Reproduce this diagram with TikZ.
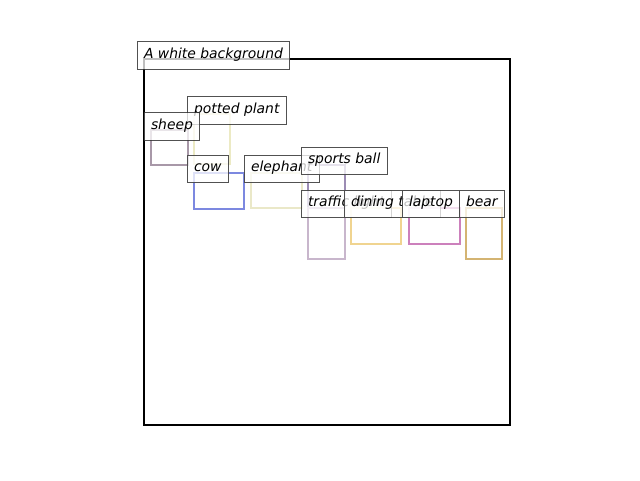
\documentclass[tikz,border=0pt]{standalone}
\usepackage{fontspec}
\setmainfont{DejaVu Sans}
\begin{document}
\begin{tikzpicture}[x=1pt,y=-1pt,
  frame/.style={draw=black,line width=2pt},
  bbox/.style={line width=2pt},
  lbl/.style={draw=black!80, draw opacity=0.85, line width=1pt,
    fill=white, fill opacity=0.75, text opacity=1,
    inner xsep=7pt, inner ysep=0pt, outer sep=0pt,
    text height=16.5pt, text depth=11pt, anchor=base west,
    font=\fontsize{13.9}{16}\selectfont\itshape}]
\definecolor{csheep}{HTML}{A898A8}
\definecolor{cplant}{HTML}{ECEAC4}
\definecolor{ccow}{HTML}{7C88E0}
\definecolor{celephant}{HTML}{EAE8C8}
\definecolor{cball}{HTML}{9C8CB4}
\definecolor{ctraffic}{HTML}{C8B6CC}
\definecolor{ctable}{HTML}{F0D490}
\definecolor{claptop}{HTML}{CC80BC}
\definecolor{cbear}{HTML}{D4B472}
\useasboundingbox (0,0) rectangle (640,480);

% image frame
\draw[frame] (144,59) rectangle (510,425);

% detection boxes
\draw[bbox,draw=csheep]    (151,130) rectangle (188,165);
\draw[bbox,draw=cplant]    (194,114) rectangle (230,164);
\draw[bbox,draw=ccow]      (194,172.5) rectangle (244,208.5);
\draw[bbox,draw=celephant] (251,172.5) rectangle (302,208);
\draw[bbox,draw=cball]     (308,164.5) rectangle (345,208);
\draw[bbox,draw=ctraffic]  (308,207.5) rectangle (345,259);
\draw[bbox,draw=ctable]    (351,207.5) rectangle (401,244);
\draw[bbox,draw=claptop]   (409,207.5) rectangle (460,244);
\draw[bbox,draw=cbear]     (466,207.5) rectangle (502,259);

% captions
\node[lbl] (lbg)       at (137,58)    {A white background};
\node[lbl] (lplant)    at (187,113)   {potted plant};
\node[lbl] (lsheep)    at (144,129)   {sheep};
\node[lbl] (lcow)      at (187,171.5) {cow};
\node[lbl] (lelephant) at (244,171.5) {elephant};
\node[lbl] (lball)     at (301,163.5) {sports ball};
\node[lbl] (ltraffic)  at (301,206.5) {traffic light};
\node[lbl] (ltable)    at (344,206.5) {dining table};
\node[lbl] (llaptop)   at (402,206.5) {laptop};
\node[lbl] (lbear)     at (459,206.5) {bear};
\end{tikzpicture}
\end{document}
